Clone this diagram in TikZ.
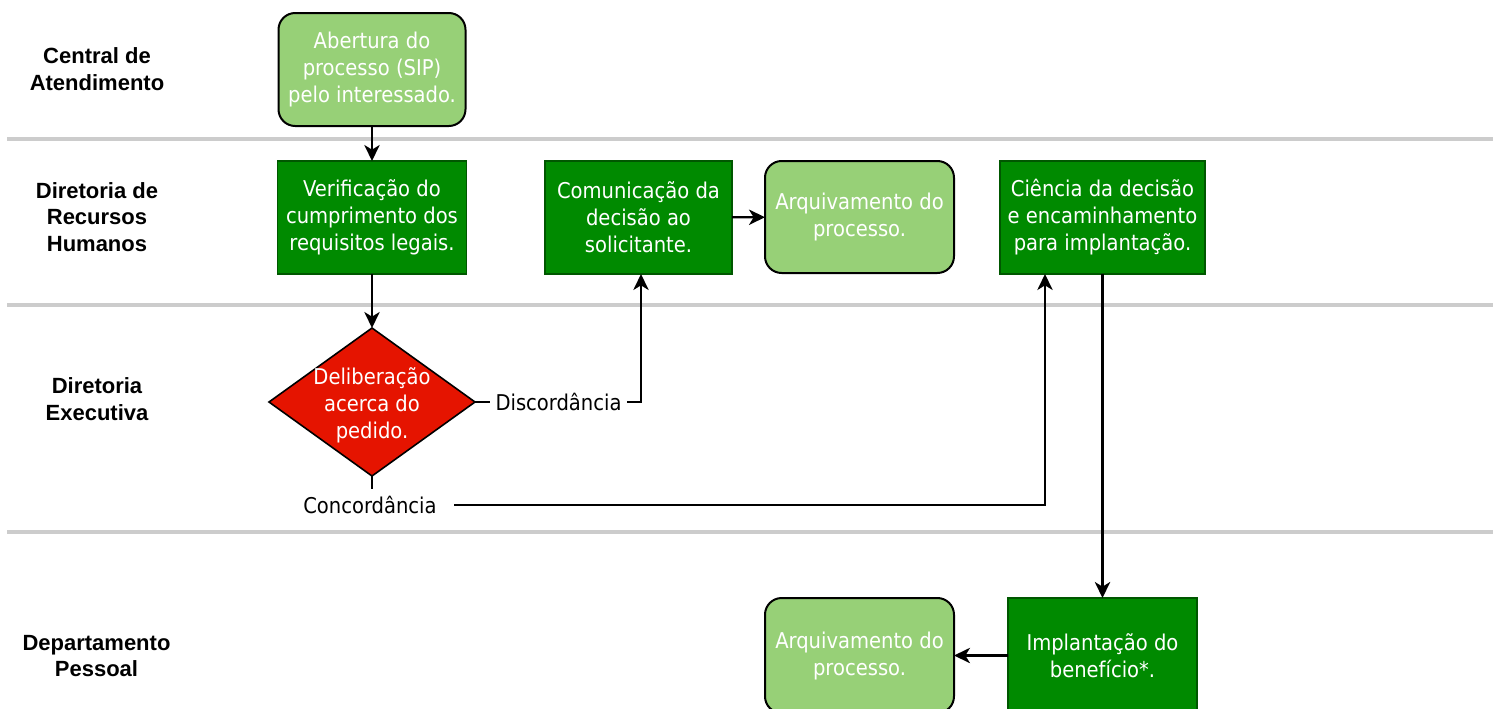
\documentclass[tikz,border=0pt]{standalone}
\usepackage{fontspec}
\setmainfont{DejaVu Sans Condensed}
\newfontfamily\lanefont{Liberation Sans}
\usetikzlibrary{arrows.meta,shapes.geometric,calc}
\definecolor{lgreen}{HTML}{97D077}
\definecolor{dgreen}{HTML}{008A00}
\definecolor{dgstroke}{HTML}{005700}
\definecolor{dred}{HTML}{E51400}
\definecolor{sepgray}{HTML}{CCCCCC}
\begin{document}
\begin{tikzpicture}[x=0.75pt,y=-0.75pt,
  txt/.style={font=\fontsize{16.3}{20.25}\selectfont, text=white, align=center},
  softbox/.style={txt, draw=black, line width=1.5pt, fill=lgreen, rounded corners=12.5pt,
    minimum width=141.75pt, minimum height=84.75pt, inner sep=0pt, outer sep=0pt},
  hardbox/.style={txt, draw=dgstroke, line width=0.8pt, fill=dgreen,
    minimum width=141.75pt, minimum height=84.75pt, inner sep=0pt, outer sep=0pt},
  decision/.style={diamond, draw=black, line width=1.2pt, fill=dred,
    minimum width=154.5pt, minimum height=111pt, inner sep=0pt, outer sep=0pt},
  lane/.style={font=\lanefont\bfseries\fontsize{16.5}{19.8}\selectfont, align=center, text=black},
  lbl/.style={font=\fontsize{16.3}{20}\selectfont, text=black, fill=white, inner xsep=4pt, inner ysep=4pt},
  arr/.style={line width=1.7pt, draw=black, -{Stealth[length=12pt,width=11.5pt,inset=3.5pt]}},
  sep/.style={line width=2.4pt, draw=sepgray}
]
\useasboundingbox (0,0) rectangle (1493,708);
\fill[white] (0,0) rectangle (1493,708);

% lane separators
\draw[sep] (7,139) -- (1493,139);
\draw[sep] (7,305) -- (1493,305);
\draw[sep] (7,532) -- (1493,532);

% lane labels
\node[lane] (l1) at (97,69) {Central de\\Atendimento};
\node[lane] (l2) at (97,217) {Diretoria de\\Recursos\\Humanos};
\node[lane] (l3) at (97,399) {Diretoria\\Executiva};
\node[lane] (l4) at (96.5,656) {Departamento\\Pessoal};

% nodes
\node[softbox, minimum width=140.25pt] (A) at (372,69.5) {Abertura do\\processo (SIP)\\pelo interessado.};
\node[hardbox] (B) at (372,217.5) {Verificação do\\cumprimento dos\\requisitos legais.};
\node[hardbox, minimum width=140.25pt] (C) at (638.5,217.5) {Comunicação da\\decisão ao\\solicitante.};
\node[softbox, minimum height=84pt] (D) at (859.5,217) {Arquivamento do\\processo.};
\node[hardbox, minimum width=153.75pt] (E) at (1102.5,217.5) {Ciência da decisão\\e encaminhamento\\para implantação.};
\node[decision] (F) at (372,402) {};
\node[txt] (Ft) at (372,405) {Deliberação\\acerca do\\pedido.};
\node[hardbox, minimum height=86.25pt] (G) at (1102.5,655.5) {Implantação do\\benefício*.};
\node[softbox, minimum height=86.25pt] (H) at (859.5,655.5) {Arquivamento do\\processo.};

% connectors
\draw[arr] (A) -- (B);
\draw[arr] (B) -- (F);
\draw[arr] (C) -- (D);
\coordinate (dk) at (641,402);
\draw[arr] (F.east) -- (dk) -- (dk |- C.south);
\node[lbl] (disc) at (558.5,402) {Discordância};
\coordinate (ck) at (372,505);
\coordinate (ce) at (1045,505);
\draw[arr] (F.south) -- (ck) -- (ce) -- (ce |- E.south);
\node[lbl, minimum width=126pt, minimum height=24pt] (conc) at (370,505) {Concordância};
\draw[arr] (E) -- (G);
\draw[arr] (G) -- (H);
\end{tikzpicture}
\end{document}
